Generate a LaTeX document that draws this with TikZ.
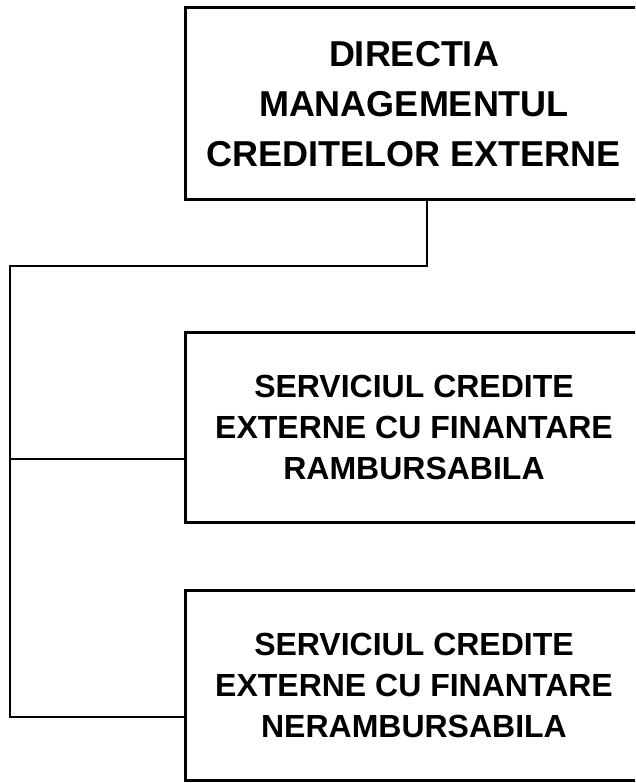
\documentclass[tikz,border=0pt]{standalone}
\usepackage{fontspec}
\setmainfont{Liberation Sans}
\begin{document}
\begin{tikzpicture}[x=1pt,y=-1pt,
  orgbox/.style={draw, line width=3pt, rectangle, inner sep=0pt, align=center, font=\bfseries},
  link/.style={line width=2pt}]
\clip (0,0) rectangle (635,783);
\node[orgbox, minimum width=458pt, minimum height=192pt, font=\bfseries\fontsize{36}{50}\selectfont] (top) at (414,104)
  {DIRECTIA\\MANAGEMENTUL\\CREDITELOR EXTERNE};
\node[orgbox, minimum width=458pt, minimum height=190pt, font=\bfseries\fontsize{32}{41}\selectfont] (s2) at (414,427)
  {SERVICIUL CREDITE\\EXTERNE CU FINANTARE\\RAMBURSABILA};
\node[orgbox, minimum width=458pt, minimum height=190pt, font=\bfseries\fontsize{32}{41}\selectfont] (s3) at (414,685)
  {SERVICIUL CREDITE\\EXTERNE CU FINANTARE\\NERAMBURSABILA};
\coordinate (out) at ([xshift=13pt]top.south);
\coordinate (bend) at (10,266);
\coordinate (in2) at ([yshift=-32pt]s2.west);
\coordinate (in3) at ([yshift=-32pt]s3.west);
\coordinate (tap2) at (bend |- in2);
\draw[link] (out) |- (bend) |- (in3);
\draw[link] (tap2) -- (in2);
\end{tikzpicture}
\end{document}
